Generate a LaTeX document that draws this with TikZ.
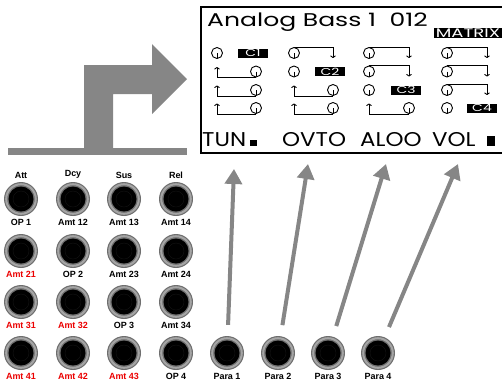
\documentclass[tikz,border=0pt]{standalone}
\usepackage{fontspec}
\setmainfont{Liberation Sans}
\newfontfamily\lcdfont{Poppins}
\usetikzlibrary{arrows.meta}

\definecolor{arrowgray}{RGB}{134,134,134}
\definecolor{ringgray}{RGB}{110,110,110}
\definecolor{ringlight}{RGB}{165,165,165}
\definecolor{amtred}{RGB}{235,0,0}

\tikzset{
  knob/.style={circle, minimum size=34bp, inner sep=0, fill=ringgray,
    path picture={
      \draw[ringlight, line width=2bp] (path picture bounding box.center) circle (14.8bp);
      \fill[black] (path picture bounding box.center) circle (12.5bp);
      \draw[black!92, line width=0.4bp] (path picture bounding box.center) circle (8bp);}},
  knoblabel/.style={font=\bfseries\fontsize{9}{9}\selectfont, inner sep=1bp, label distance=2bp},
  redlabel/.style={knoblabel, text=amtred},
  dial/.style={circle, draw, line width=0.9bp, minimum size=11bp, inner sep=0,
    path picture={\draw[line width=0.9bp] (path picture bounding box.center) -- (path picture bounding box.south);}},
  lcdlink/.style={line width=0.9bp, -{To[length=2.5bp,width=5.5bp]}},
  cbox/.style={fill=black, text=white, minimum width=30bp, minimum height=9bp, inner sep=0,
    font=\lcdfont\fontsize{10}{10}\selectfont},
  lcdtext/.style={anchor=base west, inner sep=0, font=\lcdfont\fontsize{20}{20}\selectfont},
  paraarrow/.style={draw=arrowgray, line width=4bp, -{Triangle[width=17bp,length=15bp]}, shorten <=11bp}
}

\begin{document}
\begin{tikzpicture}[x=1bp,y=-1bp]
  \useasboundingbox (0,0) rectangle (502,382);

  % big turn arrow
  \fill[arrowgray] (8,148) rectangle (187,155);
  \fill[arrowgray] (84,148) -- (84,65) -- (152,65) -- (152,44) -- (187,79) -- (152,114)
    -- (152,94) -- (113,94) -- (113,148) -- cycle;

  % display
  \draw[line width=1.5bp] (510,7) -- (201,7) -- (201,153) -- (510,153);
  \node[lcdtext, font=\lcdfont\fontsize{18.5}{18.5}\selectfont] (title) at (207,26) {\scalebox{1.36}[1]{Analog Bass 1\ \ 012}};
  \node[cbox, minimum width=68bp, minimum height=10bp, font=\lcdfont\fontsize{12.5}{12.5}\selectfont] (matrix) at (468,33) {\scalebox{1.45}[1]{MATRIX}};

  % column 1
  \node[dial] (a11) at (217,53) {};
  \node[cbox] (c1) at (253,53) {\scalebox{1.4}[1]{C1}};
  \node[dial] (a21) at (256,71.5) {};
  \node[dial] (a31) at (256,90) {};
  \node[dial] (a41) at (256,108) {};
  \coordinate (u21) at (217,67);
  \coordinate (u31) at (217,85.5);
  \coordinate (u41) at (217,103.5);
  \draw[lcdlink] (a21.south) -| (u21);
  \draw[lcdlink] (a31.south) -| (u31);
  \draw[lcdlink] (a41.south) -| (u41);

  % column 2
  \node[dial] (a12) at (294,53) {};
  \node[dial] (a22) at (294,71.5) {};
  \node[cbox] (c2) at (330,71.5) {\scalebox{1.4}[1]{C2}};
  \node[dial] (a32) at (333,90) {};
  \node[dial] (a42) at (333,108) {};
  \coordinate (d12) at (333,58);
  \coordinate (u32) at (294,85.5);
  \coordinate (u42) at (294,103.5);
  \draw[lcdlink] (a12.north) -| (d12);
  \draw[lcdlink] (a32.south) -| (u32);
  \draw[lcdlink] (a42.south) -| (u42);

  % column 3
  \node[dial] (a13) at (369,53) {};
  \node[dial] (a23) at (369,71.5) {};
  \node[dial] (a33) at (369,90) {};
  \node[cbox] (c3) at (406,90) {\scalebox{1.4}[1]{C3}};
  \node[dial] (a43) at (409,108) {};
  \coordinate (d13) at (409,58);
  \coordinate (d23) at (409,76.5);
  \coordinate (u43) at (369,103.5);
  \draw[lcdlink] (a13.north) -| (d13);
  \draw[lcdlink] (a23.north) -| (d23);
  \draw[lcdlink] (a43.south) -| (u43);

  % column 4
  \node[dial] (a14) at (447,53) {};
  \node[dial] (a24) at (447,71.5) {};
  \node[dial] (a34) at (447,90) {};
  \node[dial] (a44) at (447,108) {};
  \node[cbox] (c4) at (482,108) {\scalebox{1.4}[1]{C4}};
  \coordinate (d14) at (487,58);
  \coordinate (d24) at (487,76.5);
  \coordinate (d34) at (487,95);
  \draw[lcdlink] (a14.north) -| (d14);
  \draw[lcdlink] (a24.north) -| (d24);
  \draw[lcdlink] (a34.north) -| (d34);

  % parameter names
  \node[lcdtext] (tun) at (202,146) {\scalebox{1.15}[1]{TUN}};
  \node[lcdtext] (ovto) at (282,146) {\scalebox{1.15}[1]{OVTO}};
  \node[lcdtext] (aloo) at (360,146) {\scalebox{1.15}[1]{ALOO}};
  \node[lcdtext] (vol) at (432,146) {\scalebox{1.15}[1]{VOL}};
  \fill (250,140) rectangle (257,146);
  \fill (487,136) rectangle (495,146);

  % envelope knobs
  \node[knob, label={[knoblabel]above:Att}, label={[knoblabel]below:OP 1}] (k11) at (21,199) {};
  \node[knob, label={[knoblabel]above:Dcy}, label={[knoblabel]below:Amt 12}] (k12) at (73,199) {};
  \node[knob, label={[knoblabel]above:Sus}, label={[knoblabel]below:Amt 13}] (k13) at (124,199) {};
  \node[knob, label={[knoblabel]above:Rel}, label={[knoblabel]below:Amt 14}] (k14) at (176,199) {};

  \node[knob, label={[redlabel]below:Amt 21}] (k21) at (21,251) {};
  \node[knob, label={[knoblabel]below:OP 2}] (k22) at (73,251) {};
  \node[knob, label={[knoblabel]below:Amt 23}] (k23) at (124,251) {};
  \node[knob, label={[knoblabel]below:Amt 24}] (k24) at (176,251) {};

  \node[knob, label={[redlabel]below:Amt 31}] (k31) at (21,302) {};
  \node[knob, label={[redlabel]below:Amt 32}] (k32) at (73,302) {};
  \node[knob, label={[knoblabel]below:OP 3}] (k33) at (124,302) {};
  \node[knob, label={[knoblabel]below:Amt 34}] (k34) at (176,302) {};

  \node[knob, label={[redlabel]below:Amt 41}] (k41) at (21,353) {};
  \node[knob, label={[redlabel]below:Amt 42}] (k42) at (73,353) {};
  \node[knob, label={[redlabel]below:Amt 43}] (k43) at (124,353) {};
  \node[knob, label={[knoblabel]below:OP 4}] (k44) at (176,353) {};

  % parameter knobs
  \node[knob, label={[knoblabel]below:Para 1}] (p1) at (227,353) {};
  \node[knob, label={[knoblabel]below:Para 2}] (p2) at (278,353) {};
  \node[knob, label={[knoblabel]below:Para 3}] (p3) at (328,353) {};
  \node[knob, label={[knoblabel]below:Para 4}] (p4) at (378,353) {};

  \coordinate (t1) at (234,169);
  \coordinate (t2) at (308,164);
  \coordinate (t3) at (386,164);
  \coordinate (t4) at (458,164);
  \draw[paraarrow] (p1) -- (t1);
  \draw[paraarrow] (p2) -- (t2);
  \draw[paraarrow] (p3) -- (t3);
  \draw[paraarrow] (p4) -- (t4);
\end{tikzpicture}
\end{document}
